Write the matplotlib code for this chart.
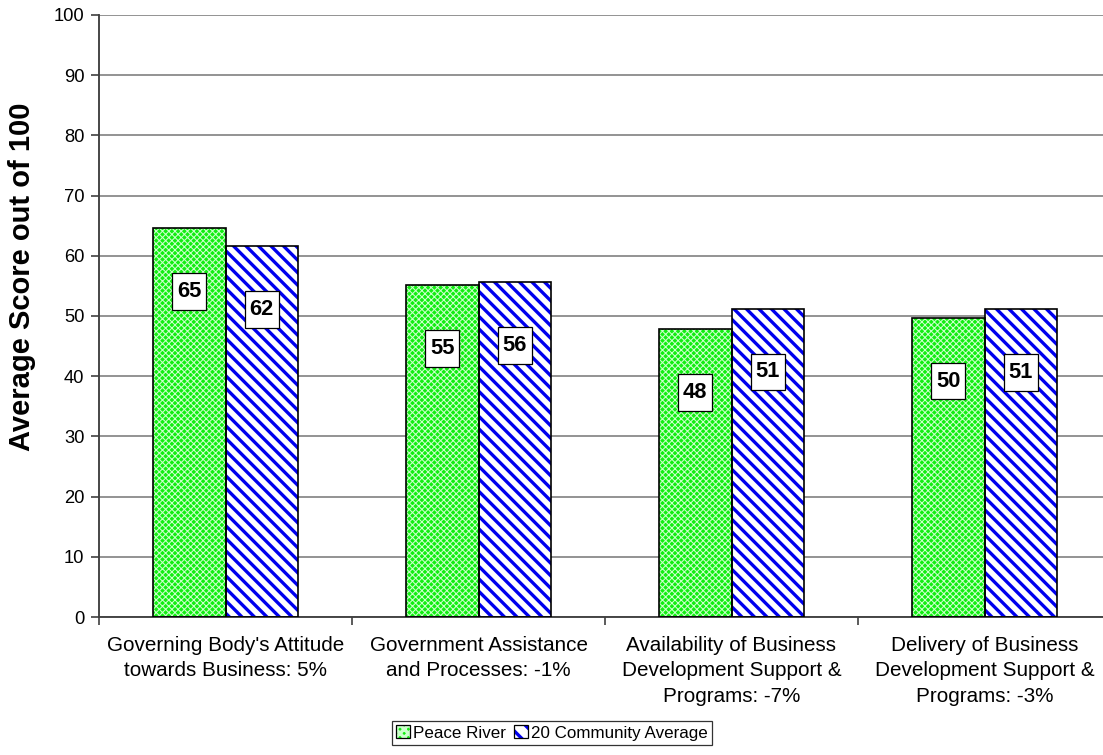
import matplotlib
matplotlib.use("Agg")
import matplotlib.pyplot as plt
import numpy as np
from matplotlib.patches import Patch
from matplotlib.path import Path

plt.rcParams['font.family'] = ['Liberation Sans', 'DejaVu Sans']

# average scores per business-climate category
categories = [
    "Governing Body's Attitude\ntowards Business: 5%",
    "Government Assistance\nand Processes: -1%",
    "Availability of Business\nDevelopment Support &\nPrograms: -7%",
    "Delivery of Business\nDevelopment Support &\nPrograms: -3%",
]
peace_river = [64.6, 55.1, 47.8, 49.7]
community_avg = [61.6, 55.6, 51.2, 51.1]
series_names = ["Peace River", "20 Community Average"]

DPI = 150
fig = plt.figure(figsize=(1103 / DPI, 755 / DPI), dpi=DPI)
ax = fig.add_axes([99 / 1103, 138 / 755, 1012 / 1103, 602 / 755])

x = np.arange(len(categories))
w = 0.287

GREEN = "#11ee11"
GREEN_HATCH = "#ccffcc"
BLUE = "#0000ee"
GREEN_PAT = "xxxxxxxx"
BLUE_PAT = "\\\\\\\\"


def hatched_bars(xpos, vals, face, hatch, hatch_color, hatch_lw):
    # fill + hatch first, then a plain outline on top
    bars = ax.bar(xpos, vals, w, color=face, edgecolor=hatch_color,
                  hatch=hatch, linewidth=0, zorder=2)
    for b in bars:
        if hasattr(b, "set_hatch_linewidth"):
            b.set_hatch_linewidth(hatch_lw)
    ax.bar(xpos, vals, w, fill=False, edgecolor="black", linewidth=0.8, zorder=3)
    return bars


def tall_box(x0, y0, width, height, mutation_size):
    # label box with more room above/below than at the sides
    px, py = 0.22 * mutation_size, 0.36 * mutation_size
    l, b, r, t = x0 - px, y0 - py, x0 + width + px, y0 + height + py
    return Path([(l, b), (r, b), (r, t), (l, t), (l, b)], closed=True)


plt.rcParams['hatch.linewidth'] = 1.6
hatched_bars(x - w / 2, peace_river, GREEN, GREEN_PAT, GREEN_HATCH, 0.5)
hatched_bars(x + w / 2, community_avg, "white", BLUE_PAT, BLUE, 1.6)

# value boxes
for xs, vals in ((x - w / 2, peace_river), (x + w / 2, community_avg)):
    for xi, v in zip(xs, vals):
        ax.text(xi, v - 10.5, f"{v:.0f}", ha="center", va="center",
                fontsize=10.5, fontweight="bold", zorder=4,
                bbox=dict(boxstyle=tall_box, fc="white", ec="black", lw=0.6))

ax.set_ylim(0, 100)
ax.set_xlim(-0.5, 3.5)
ax.set_yticks(np.arange(0, 101, 10))
ax.yaxis.grid(True, color="#808080", linewidth=0.8, zorder=0)
ax.set_axisbelow(True)

ax.set_xticks(x)
ax.set_xticklabels(categories, fontsize=9.9, linespacing=1.45)
ax.set_xticks(np.arange(-0.5, 3.6, 1), minor=True)
ax.tick_params(axis="x", which="major", length=0, pad=9)
ax.tick_params(axis="x", which="minor", length=4, width=0.8, color="#404040")
ax.tick_params(axis="y", length=4, width=0.8, color="#404040", labelsize=8.8, pad=3)

for side in ("top", "right"):
    ax.spines[side].set_visible(False)
for side in ("left", "bottom"):
    ax.spines[side].set_color("#404040")
    ax.spines[side].set_linewidth(0.9)

fig.text(22 / 1103, 1 - 277 / 755, "Average Score out of 100", rotation=90,
         ha="center", va="center", fontsize=14, fontweight="bold")

outline = Patch(facecolor="none", edgecolor="black", linewidth=0.6)
handles = [
    (Patch(facecolor=GREEN, edgecolor=GREEN_HATCH, hatch="xxxxxx", linewidth=0), outline),
    (Patch(facecolor="white", edgecolor=BLUE, hatch="\\\\\\", linewidth=0), outline),
]
leg = fig.legend(handles, series_names, loc="center",
                 bbox_to_anchor=(552 / 1103, 1 - 733 / 755), ncol=2,
                 fontsize=8.2, frameon=True, fancybox=False,
                 handlelength=0.8, handleheight=0.8, handletextpad=0.2,
                 columnspacing=0.5, borderpad=0.25, borderaxespad=0)
leg.get_frame().set_edgecolor("black")
leg.get_frame().set_linewidth(0.6)

fig.savefig("out.png", dpi=DPI)
